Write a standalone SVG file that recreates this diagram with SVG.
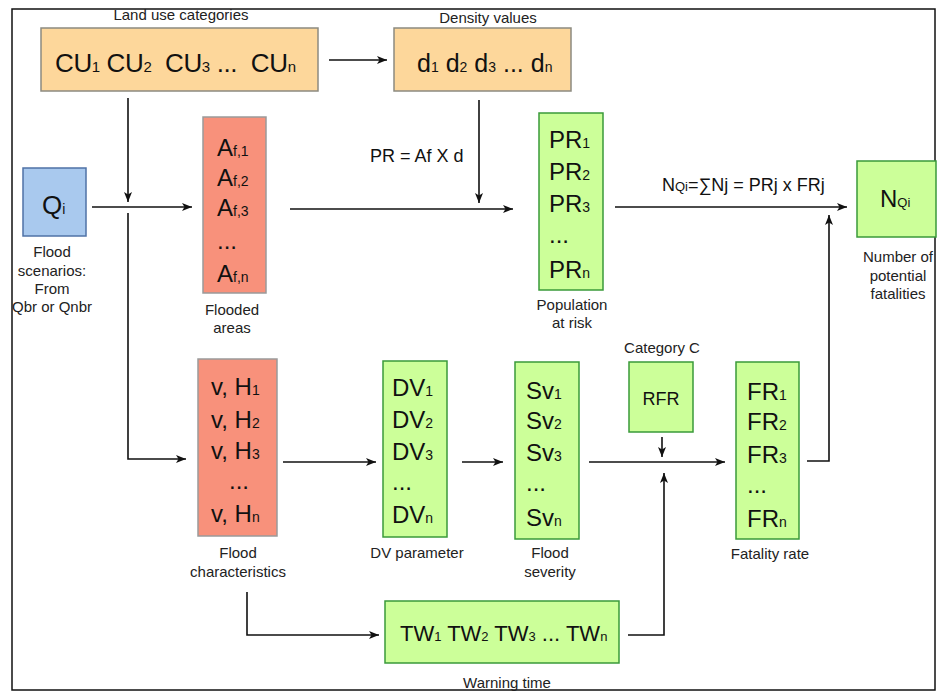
<svg xmlns="http://www.w3.org/2000/svg" width="941" height="697" viewBox="0 0 941 697">
  <style>
    text { font-family: "Liberation Sans", Arial, sans-serif; fill: #111; }
    .big { font-size: 24px; }
    .sub { font-size: 14px; }
    .lbl { font-size: 15px; text-anchor: middle; fill: #222; }
    .eq { font-size: 18px; }
    .orange { fill: #FDD79B; stroke: #8c8a80; stroke-width: 1.5; }
    .salmon { fill: #F8917B; stroke: #9a9a9a; stroke-width: 1.5; }
    .green { fill: #CCFF99; stroke: #3A9A3A; stroke-width: 1.5; }
    .blue { fill: #A9C9EE; stroke: #4F72A6; stroke-width: 1.5; }
    .wire { fill: none; stroke: #111; stroke-width: 1.6; }
  </style>
  <defs>
    <marker id="arrow" viewBox="0 0 10 8" refX="10" refY="4" markerWidth="10" markerHeight="8" markerUnits="userSpaceOnUse" orient="auto">
      <path d="M0,0 L10,4 L0,8 L2.5,4 Z" fill="#111"/>
    </marker>
  </defs>

  <rect x="0" y="0" width="941" height="697" fill="#ffffff"/>
  <!-- outer frame -->
  <rect x="12" y="9" width="923" height="681" fill="none" stroke="#111" stroke-width="1.5"/>

  <!-- connectors -->
  <g id="connectors" class="wire">
    <path d="M329,60 H387" marker-end="url(#arrow)"/>
    <path d="M128,98 V202" marker-end="url(#arrow)"/>
    <path d="M92,207 H192" marker-end="url(#arrow)"/>
    <path d="M128,213 V459 H186" marker-end="url(#arrow)"/>
    <path d="M290,209 H513" marker-end="url(#arrow)"/>
    <path d="M479,100 V203" marker-end="url(#arrow)"/>
    <path d="M615,207 H847" marker-end="url(#arrow)"/>
    <path d="M807,461 H829 V215" marker-end="url(#arrow)"/>
    <path d="M283,462 H376" marker-end="url(#arrow)"/>
    <path d="M462,462 H503" marker-end="url(#arrow)"/>
    <path d="M589,462 H725" marker-end="url(#arrow)"/>
    <path d="M662,437 V457" marker-end="url(#arrow)"/>
    <path d="M247,592 V635 H379" marker-end="url(#arrow)"/>
    <path d="M628,635 H664 V473" marker-end="url(#arrow)"/>
  </g>

  <!-- connector formulas -->
  <text class="eq" x="370" y="162">PR = Af X d</text>
  <text class="eq" x="662" y="191">N<tspan style="font-size:13px">Qi</tspan>=∑Nj = PRj x FRj</text>

  <g id="land-use">
    <text class="lbl" x="181" y="20">Land use categories</text>
    <rect class="orange" x="41" y="28" width="277" height="63"/>
    <text x="55" y="72" style="font-size:26px" xml:space="preserve" textLength="241" lengthAdjust="spacing">CU<tspan style="font-size:15px">1</tspan> CU<tspan style="font-size:15px">2</tspan>  CU<tspan style="font-size:15px">3</tspan> ...  CU<tspan style="font-size:15px">n</tspan></text>
  </g>

  <g id="density">
    <text class="lbl" x="488" y="23">Density values</text>
    <rect class="orange" x="394" y="28" width="177" height="63"/>
    <text x="417" y="72" style="font-size:25px">d<tspan style="font-size:14px">1</tspan> d<tspan style="font-size:14px">2</tspan> d<tspan style="font-size:14px">3</tspan> ... d<tspan style="font-size:14px">n</tspan></text>
  </g>

  <g id="scenario">
    <rect class="blue" x="23" y="168" width="63" height="68"/>
    <text x="42" y="214" style="font-size:26px">Q<tspan class="sub">i</tspan></text>
    <text class="lbl" x="52" y="257">Flood</text>
    <text class="lbl" x="52" y="276">scenarios:</text>
    <text class="lbl" x="52" y="294">From</text>
    <text class="lbl" x="52" y="312">Qbr or Qnbr</text>
  </g>

  <g id="flooded-areas">
    <rect class="salmon" x="203" y="117" width="63" height="176"/>
    <text class="big" x="217" y="156">A<tspan class="sub">f,1</tspan></text>
    <text class="big" x="217" y="186">A<tspan class="sub">f,2</tspan></text>
    <text class="big" x="217" y="216">A<tspan class="sub">f,3</tspan></text>
    <text class="big" x="217" y="249">...</text>
    <text class="big" x="217" y="282">A<tspan class="sub">f,n</tspan></text>
    <text class="lbl" x="232" y="315">Flooded</text>
    <text class="lbl" x="232" y="333">areas</text>
  </g>

  <g id="population">
    <rect class="green" x="539" y="113" width="64" height="177"/>
    <text class="big" x="549" y="148">PR<tspan class="sub">1</tspan></text>
    <text class="big" x="549" y="180">PR<tspan class="sub">2</tspan></text>
    <text class="big" x="549" y="212">PR<tspan class="sub">3</tspan></text>
    <text class="big" x="549" y="243">...</text>
    <text class="big" x="549" y="278">PR<tspan class="sub">n</tspan></text>
    <text class="lbl" x="572" y="310">Population</text>
    <text class="lbl" x="572" y="328">at risk</text>
  </g>

  <g id="fatalities">
    <rect class="green" x="857" y="161" width="79" height="76"/>
    <text class="big" x="880" y="207">N<tspan style="font-size:13px">Qi</tspan></text>
    <text class="lbl" x="898" y="262">Number of</text>
    <text class="lbl" x="898" y="281">potential</text>
    <text class="lbl" x="898" y="299">fatalities</text>
  </g>

  <g id="flood-characteristics">
    <rect class="salmon" x="198" y="359" width="79" height="177"/>
    <text class="big" x="211" y="395">v, H<tspan class="sub">1</tspan></text>
    <text class="big" x="211" y="428">v, H<tspan class="sub">2</tspan></text>
    <text class="big" x="211" y="459">v, H<tspan class="sub">3</tspan></text>
    <text class="big" x="229" y="489">...</text>
    <text class="big" x="211" y="522">v, H<tspan class="sub">n</tspan></text>
    <text class="lbl" x="238" y="558">Flood</text>
    <text class="lbl" x="238" y="577">characteristics</text>
  </g>

  <g id="dv-parameter">
    <rect class="green" x="383" y="361" width="64" height="176"/>
    <text class="big" x="392" y="396">DV<tspan class="sub">1</tspan></text>
    <text class="big" x="392" y="428">DV<tspan class="sub">2</tspan></text>
    <text class="big" x="392" y="460">DV<tspan class="sub">3</tspan></text>
    <text class="big" x="392" y="490">...</text>
    <text class="big" x="392" y="523">DV<tspan class="sub">n</tspan></text>
    <text class="lbl" x="417" y="558">DV parameter</text>
  </g>

  <g id="flood-severity">
    <rect class="green" x="515" y="362" width="64" height="177"/>
    <text class="big" x="526" y="399">Sv<tspan class="sub">1</tspan></text>
    <text class="big" x="526" y="429">Sv<tspan class="sub">2</tspan></text>
    <text class="big" x="526" y="461">Sv<tspan class="sub">3</tspan></text>
    <text class="big" x="526" y="491">...</text>
    <text class="big" x="526" y="526">Sv<tspan class="sub">n</tspan></text>
    <text class="lbl" x="550" y="558">Flood</text>
    <text class="lbl" x="550" y="577">severity</text>
  </g>

  <g id="rfr">
    <text class="lbl" x="662" y="353">Category C</text>
    <rect class="green" x="629" y="362" width="64" height="70"/>
    <text class="eq" x="661" y="405" text-anchor="middle">RFR</text>
  </g>

  <g id="fatality-rate">
    <rect class="green" x="736" y="362" width="63" height="177"/>
    <text class="big" x="747" y="400">FR<tspan class="sub">1</tspan></text>
    <text class="big" x="747" y="430">FR<tspan class="sub">2</tspan></text>
    <text class="big" x="747" y="463">FR<tspan class="sub">3</tspan></text>
    <text class="big" x="747" y="493">...</text>
    <text class="big" x="747" y="527">FR<tspan class="sub">n</tspan></text>
    <text class="lbl" x="770" y="559">Fatality rate</text>
  </g>

  <g id="warning-time">
    <rect class="green" x="385" y="601" width="234" height="62"/>
    <text x="400" y="641" style="font-size:22px">TW<tspan style="font-size:13px">1</tspan> TW<tspan style="font-size:13px">2</tspan> TW<tspan style="font-size:13px">3</tspan> ... TW<tspan style="font-size:13px">n</tspan></text>
    <text class="lbl" x="507" y="688">Warning time</text>
  </g>
</svg>
